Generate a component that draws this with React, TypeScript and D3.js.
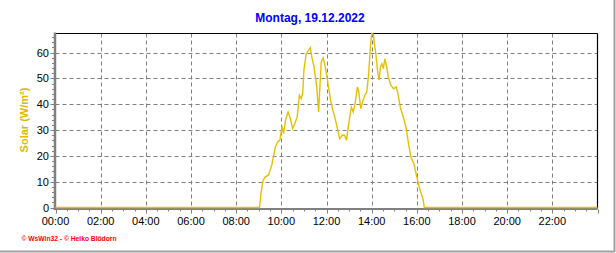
import React from "react";
import * as d3 from "d3";

const title = "Montag, 19.12.2022";
const yLabel = "Solar (W/m²)";
const footer = "© WsWin32 - © Heiko Blödorn";

const times = [
  "00:00", "09:02", "09:06", "09:11", "09:17", "09:26", "09:35", "09:44", "09:50", "09:56",
  "10:02", "10:06", "10:11", "10:18", "10:24", "10:30", "10:36", "10:42", "10:48", "10:53", "10:57",
  "11:00", "11:06", "11:12", "11:17", "11:21", "11:27", "11:34", "11:39", "11:42", "11:46", "11:51", "11:55",
  "12:00", "12:06", "12:11", "12:17", "12:22", "12:28", "12:35", "12:42", "12:48", "12:53", "12:59",
  "13:06", "13:11", "13:16", "13:22", "13:26", "13:31", "13:37", "13:42", "13:47", "13:52", "13:56",
  "14:00", "14:05", "14:06", "14:11", "14:16", "14:20", "14:23", "14:27", "14:31", "14:35", "14:40", "14:44", "14:51", "14:58",
  "15:05", "15:09", "15:16", "15:24", "15:31", "15:38", "15:44", "15:52", "15:58",
  "16:04", "16:10", "16:16", "16:20", "24:00",
];
const solar = [
  0, 0, 5.4, 10.3, 11.8, 12.6, 16.7, 23.4, 25.4, 26,
  31.4, 28.6, 33.8, 37, 34.4, 30.6, 32.5, 35, 43.5, 42.2, 44.7,
  53.2, 59.6, 60.9, 61.9, 58.3, 54.4, 46.7, 37, 45.4, 56.4, 58, 55.7,
  51.8, 46, 41.5, 37.6, 35, 31.2, 26.7, 28, 28, 26, 32.5,
  38.9, 37, 40.2, 46.7, 44.7, 38.3, 41.5, 43.5, 44.7, 51.8, 60.8,
  67.4, 67, 64.7, 59.6, 52.5, 49.3, 54.4, 55.7, 53.8, 57.6, 54.4, 50.6, 47.4, 46,
  46.7, 44.7, 38.9, 35, 31.2, 24.7, 19.6, 17, 13.1,
  9.3, 6.1, 3.5, 0, 0,
];
const xTickLabels = ["00:00", "02:00", "04:00", "06:00", "08:00", "10:00", "12:00", "14:00", "16:00", "18:00", "20:00", "22:00"];
const yTicks = [0, 10, 20, 30, 40, 50, 60];

const W = 616;
const H = 253;
const L = 55.5;
const R = 597.5;
const T = 33.5;
const B = 207.5;

function toHours(s: string) {
  const [h, m] = s.split(":").map(Number);
  return h + m / 60;
}

export default function App() {
  const x = d3.scaleLinear().domain([0, 24]).range([L, R]);
  const yMax = d3.max(solar) as number;
  const y = d3.scaleLinear().domain([0, yMax]).range([B, T]);
  const pts = times.map((t, i) => [toHours(t), solar[i]] as [number, number]);
  const line = d3.line<[number, number]>().x((d) => x(d[0])).y((d) => y(d[1]));
  const majorX = xTickLabels.map(toHours);
  const minorX = d3.range(0, 24.01, 0.5);
  const minorY = d3.range(0, yMax, 2);
  const font = "Arial, 'Liberation Sans', sans-serif";
  const gray = "#808080";

  return (
    <svg width={W} height={H} style={{ position: "fixed", left: 0, top: 0, background: "#fff" }}>
      <rect x={0} y={0} width={W} height={H} fill="#fff" />
      {/* outer frame */}
      <line x1={614.5} y1={0} x2={614.5} y2={252} stroke="#a0a0a0" strokeWidth={2} />
      <line x1={0} y1={251.5} x2={615} y2={251.5} stroke="#a0a0a0" strokeWidth={2} />
      {/* title */}
      <text x={310} y={22} textAnchor="middle" fontFamily={font} fontWeight="bold" fontSize={12} fill="#0000ff">
        {title}
      </text>
      {/* grid */}
      {majorX.slice(1).map((h) => (
        <line key={"gx" + h} x1={Math.round(x(h)) + 0.5} x2={Math.round(x(h)) + 0.5} y1={T} y2={B} stroke={gray} strokeDasharray="4,3" />
      ))}
      {yTicks.slice(1).map((v) => (
        <line key={"gy" + v} x1={L} x2={R} y1={Math.round(y(v)) + 0.5} y2={Math.round(y(v)) + 0.5} stroke={gray} strokeDasharray="4,3" />
      ))}
      {/* top & right border */}
      <line x1={L} x2={R} y1={T} y2={T} stroke="#000" strokeWidth={1.2} />
      <line x1={R} x2={R} y1={T} y2={B + 1} stroke="#000" strokeWidth={1.2} />
      {/* axes gray */}
      <line x1={L - 0.5} x2={L - 0.5} y1={T - 1} y2={B + 2.5} stroke={gray} strokeWidth={2.5} />
      <line x1={L - 2} x2={R} y1={B + 1.5} y2={B + 1.5} stroke={gray} strokeWidth={2} />
      {/* x ticks */}
      {minorX.map((h) => {
        const major = Math.abs(h % 2) < 1e-6;
        return (
          <line key={"tx" + h} x1={Math.round(x(h)) + 0.5} x2={Math.round(x(h)) + 0.5} y1={B + 2} y2={B + (major ? 6 : 4)} stroke={gray} strokeWidth={1} />
        );
      })}
      {xTickLabels.map((lab, i) => (
        <text key={"lx" + lab} x={x(majorX[i])} y={225} textAnchor="middle" fontFamily={font} fontSize={11} fill="#000">
          {lab}
        </text>
      ))}
      {/* y ticks */}
      {minorY.map((v) => {
        const major = v % 10 === 0;
        return (
          <line key={"ty" + v} x1={L - (major ? 5 : 3.5)} x2={L - 1} y1={Math.round(y(v)) + 0.5} y2={Math.round(y(v)) + 0.5} stroke={gray} strokeWidth={1} />
        );
      })}
      {yTicks.map((v) => (
        <text key={"ly" + v} x={49} y={y(v) + 4} textAnchor="end" fontFamily={font} fontSize={11} fill="#000">
          {v}
        </text>
      ))}
      {/* y label */}
      <text transform={`translate(27.5,120) rotate(-90)`} textAnchor="middle" fontFamily={font} fontWeight="bold" fontSize={11} fill="#e0b800">
        {yLabel}
      </text>
      {/* data line */}
      <path d={line(pts) || ""} fill="none" stroke="#e6c000" strokeWidth={1.4} />
      {/* footer */}
      <text x={21.5} y={240.5} fontFamily={font} fontWeight="bold" fontSize={7} fill="#ff0000" textLength={95} lengthAdjust="spacingAndGlyphs">
        {footer}
      </text>
    </svg>
  );
}
